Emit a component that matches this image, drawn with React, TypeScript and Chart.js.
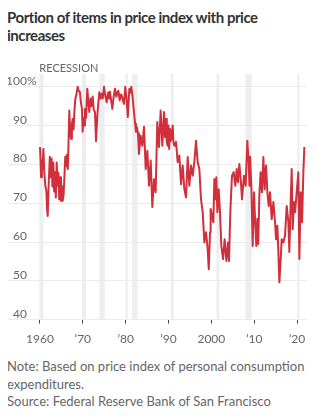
import { useEffect, useRef } from "react";
import { Chart, registerables } from "chart.js";

Chart.register(...registerables);

const FONT = "Lato, 'Noto Sans', sans-serif";

const years = [
  1960.0, 1960.15, 1960.25, 1960.45, 1960.6, 1960.8, 1961.0, 1961.25, 1961.5, 1961.65, 1961.8,
  1962.0, 1962.3, 1962.5, 1962.7, 1962.9, 1963.1, 1963.3, 1963.5, 1963.7, 1963.9,
  1964.1, 1964.3, 1964.5, 1964.7, 1964.9, 1965.1, 1965.3, 1965.5, 1965.7, 1965.9,
  1966.1, 1966.3, 1966.5, 1966.85, 1967.05, 1967.25, 1967.45, 1967.65, 1967.85,
  1968.05, 1968.25, 1968.5, 1968.8, 1969.0, 1969.3, 1969.55, 1969.8, 1969.96,
  1970.15, 1970.35, 1970.5, 1970.75, 1971.05, 1971.3, 1971.5, 1971.8,
  1972.05, 1972.3, 1972.55, 1972.84, 1973.08, 1973.39, 1973.6, 1973.85,
  1974.1, 1974.4, 1974.65, 1974.94, 1975.2, 1975.57, 1975.9,
  1976.1, 1976.34, 1976.6, 1976.89, 1977.2, 1977.51, 1977.8,
  1978.05, 1978.29, 1978.6, 1978.85, 1979.07, 1979.35, 1979.61, 1979.9,
  1980.2, 1980.5, 1980.86, 1981.1, 1981.32, 1981.6, 1981.94,
  1982.2, 1982.41, 1982.65, 1982.88, 1983.11, 1983.5, 1983.89,
  1984.28, 1984.67, 1985.06, 1985.45, 1985.84, 1986.22, 1986.61,
  1987.0, 1987.39, 1987.78, 1988.17, 1988.56, 1988.95, 1989.2, 1989.42, 1989.6, 1989.81,
  1990.0, 1990.15, 1990.35, 1990.59, 1990.98, 1991.15, 1991.37, 1991.75,
  1992.14, 1992.53, 1992.92, 1993.31, 1993.7, 1994.09, 1994.48, 1994.87,
  1995.26, 1995.65, 1996.03, 1996.42, 1996.81, 1997.2, 1997.59, 1997.98,
  1998.37, 1998.76, 1999.15, 1999.4, 1999.69, 1999.84,
  2000.16, 2000.47, 2000.7, 2000.93, 2001.17, 2001.4, 2001.71,
  2002.02, 2002.33, 2002.72, 2003.11, 2003.5, 2003.89, 2004.12, 2004.43, 2004.82,
  2005.21, 2005.6, 2005.91, 2006.22, 2006.54, 2006.85, 2007.16, 2007.62,
  2008.01, 2008.4, 2008.71, 2008.9, 2009.05, 2009.35, 2009.65, 2009.96,
  2010.2, 2010.5, 2010.75, 2010.95, 2011.2, 2011.5, 2011.83,
  2012.14, 2012.45, 2012.77, 2013.08, 2013.39, 2013.7, 2014.09, 2014.48, 2014.87,
  2015.1, 2015.41, 2015.65, 2015.88, 2016.19, 2016.42, 2016.81,
  2017.2, 2017.59, 2017.98, 2018.21, 2018.52, 2018.76, 2018.99,
  2019.3, 2019.54, 2019.92, 2020.31, 2020.55, 2020.86, 2021.17, 2021.48, 2021.71,
];

const shares = [
  84.5, 80.5, 76.7, 81, 79, 84, 78, 74.5, 73, 68.5, 66.7,
  74, 82, 76.7, 81.5, 74.3, 80.5, 73, 78, 71.5, 80.5,
  74.5, 77.8, 71, 76.7, 70.6, 74.5, 70.6, 72, 76.7, 82,
  79.5, 82.5, 78.8, 93.9, 88, 86.6, 90.5, 91.7, 89,
  94, 96.9, 98, 100, 99, 98.7, 96, 94.3, 88.4,
  92, 90, 94.3, 92, 99.5, 96, 93.5, 97,
  95, 97.5, 94, 93.5, 86, 92.6, 95.5, 98.6,
  97, 98.2, 97, 100, 98, 96, 98.5,
  97, 98.7, 96.5, 94.3, 97.5, 99.5, 97.5,
  98.5, 99, 96.5, 98, 97.8, 96.5, 95.6, 100,
  97, 92.2, 99.5, 98.5, 100, 97.5, 93.5,
  90.5, 88.4, 89.5, 87.9, 82.7, 87.4, 84.8,
  89.7, 78.8, 83.5, 74.5, 81, 69, 76.2,
  72.8, 90.9, 84.5, 93.9, 84.8, 93.5, 87, 91.7, 85.8, 84.8,
  90, 84, 89.1, 86.1, 90, 85.8, 84.8, 85.8,
  80.6, 82.3, 74.9, 79.7, 73.6, 71.5, 81.9, 74.5,
  79.7, 77.1, 80.6, 86.1, 80.6, 78.8, 71, 67.7,
  59.9, 62.5, 58.1, 53, 62.5, 68.5,
  66.7, 65.1, 76.2, 71, 76.7, 67.7, 73.6,
  67.7, 59, 55.6, 60.7, 55.1, 59.9, 55.1, 67.7, 77.1,
  78, 74.5, 78.8, 75.4, 80.1, 76.2, 71, 77.1,
  74.5, 86.1, 80.6, 74.5, 82, 74, 59, 72.8,
  66, 59, 66, 59.5, 71.9, 78, 72.8,
  81.9, 73.6, 79.7, 72.8, 69.3, 72.8, 65.9, 70.3, 65.1,
  60.7, 64.2, 57.4, 49.6, 55.6, 60.7, 59.9,
  61.6, 69.3, 65.1, 57.4, 70.3, 78.8, 63.3,
  70.3, 67.7, 72.8, 78, 55.6, 72.8, 65.1, 78, 84.5,
];

const tickYears = [1960, 1970, 1980, 1990, 2000, 2010, 2020];
const tickLabels = ["1960", "\u201970", "\u201980", "\u201990", "2000", "\u201910", "\u201920"];
const recessionStarts = [1959.85, 1969.8, 1973.85, 1980.0, 1981.5, 1990.55, 2001.2, 2007.95, 2020.1];
const recessionEnds = [1960.8, 1970.75, 1975.1, 1980.5, 1982.8, 1991.2, 2001.85, 2009.4, 2020.45];

export default function App() {
  const ref = useRef<HTMLCanvasElement>(null);

  useEffect(() => {
    if (!ref.current) return;

    const bandsPlugin = {
      id: "recessions",
      beforeDraw(chart: any) {
        const { ctx, chartArea, scales } = chart;
        const x = scales.x;
        ctx.save();
        ctx.fillStyle = "#edeef0";
        recessionStarts.forEach((s, i) => {
          const x0 = x.getPixelForValue(s);
          const x1 = x.getPixelForValue(recessionEnds[i]);
          ctx.fillRect(x0, chartArea.top, Math.max(x1 - x0, 2), chartArea.bottom - chartArea.top);
        });
        ctx.fillStyle = "#666";
        ctx.font = `11px ${FONT}`;
        ctx.textBaseline = "alphabetic";
        ctx.textAlign = "left";
        ctx.fillText("RECESSION", x.getPixelForValue(recessionStarts[0]), chartArea.top - 2);
        ctx.restore();
      },
    };

    const yLabelPlugin = {
      id: "yLabels",
      afterDraw(chart: any) {
        const { ctx, chartArea, scales } = chart;
        const y = scales.y;
        ctx.save();
        ctx.font = `12px ${FONT}`;
        ctx.fillStyle = "#666";
        ctx.textBaseline = "alphabetic";
        y.ticks.forEach((t: any) => {
          const py = y.getPixelForValue(t.value) - 2;
          ctx.textAlign = "right";
          ctx.fillText(String(t.value), chartArea.left + 20, py);
          if (t.value === 100) {
            ctx.textAlign = "left";
            ctx.fillText("%", chartArea.left + 20, py);
          }
        });
        ctx.restore();
      },
    };

    const chart = new Chart(ref.current, {
      type: "line",
      data: {
        datasets: [
          {
            data: years.map((x, i) => ({ x, y: shares[i] })),
            borderColor: "#d12f3b",
            borderWidth: 2,
            pointRadius: 0,
            tension: 0,
            borderJoinStyle: "round",
          },
        ],
      },
      options: {
        animation: false,
        responsive: true,
        maintainAspectRatio: false,
        layout: { padding: { top: 18, right: 7, left: 0, bottom: 0 } },
        plugins: { legend: { display: false }, tooltip: { enabled: false } },
        scales: {
          x: {
            type: "linear",
            min: 1952.3,
            max: 2022.33,
            afterBuildTicks: (s: any) => {
              s.ticks = tickYears.map((v) => ({ value: v }));
            },
            grid: { drawOnChartArea: false, drawTicks: true, tickLength: 4, color: "#444" },
            border: { display: false },
            ticks: {
              autoSkip: false,
              maxRotation: 0,
              padding: 8,
              color: "#666",
              font: { family: FONT, size: 12 },
              callback: (_v: any, i: number) => tickLabels[i],
            },
          },
          y: {
            min: 40,
            max: 103.3,
            ticks: { display: false, stepSize: 10, includeBounds: false },
            grid: { color: "#ebebeb", drawTicks: false },
            border: { display: false },
          },
        },
      },
      plugins: [bandsPlugin, yLabelPlugin],
    } as any);

    return () => chart.destroy();
  }, []);

  return (
    <div style={{ fontFamily: FONT }}>
      <div
        style={{
          fontWeight: 700,
          fontSize: 15,
          letterSpacing: "-0.45px",
          lineHeight: "18px",
          color: "#333",
          margin: "0 0 12px -1px",
        }}
      >
        Portion of items in price index with price
        <br />
        increases
      </div>
      <div style={{ position: "relative", height: 298, width: 307, marginLeft: -1 }}>
        <canvas ref={ref} />
      </div>
      <div style={{ marginTop: 4, fontSize: 13, lineHeight: "17.5px", color: "#666", marginLeft: -1 }}>
        Note: Based on price index of personal consumption
        <br />
        expenditures.
        <br />
        Source: Federal Reserve Bank of San Francisco
      </div>
    </div>
  );
}
